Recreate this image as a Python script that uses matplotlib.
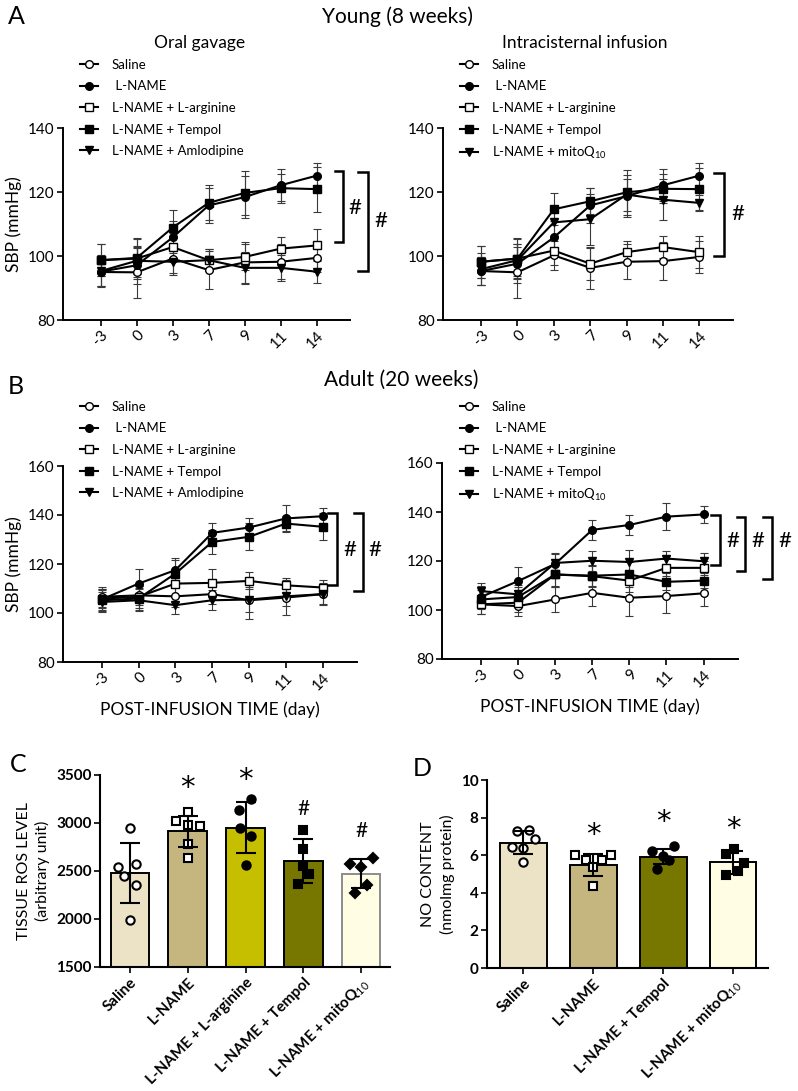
import matplotlib
matplotlib.use('Agg')
import matplotlib.pyplot as plt
import matplotlib.transforms as mtransforms
import numpy as np

plt.rcParams['font.family'] = ['Lato', 'DejaVu Sans']
plt.rcParams['mathtext.fontset'] = 'custom'
plt.rcParams['mathtext.rm'] = 'Lato'
plt.rcParams['mathtext.it'] = 'Lato:italic'
plt.rcParams['mathtext.bf'] = 'Lato:bold'

W, H = 798, 1091

# ---------------- data: SBP time course ----------------
days = ['-3', '0', '3', '7', '9', '11', '14']

# Young, oral gavage
ya_saline = [95.0, 94.9, 99.2, 95.6, 98.0, 98.2, 99.4]
ya_saline_sd = [4.5, 8.0, 4.5, 6.0, 6.5, 5.5, 4.5]
ya_lname = [95.1, 97.1, 105.8, 115.8, 118.4, 122.1, 125.1]
ya_lname_sd = [4.5, 6.0, 5.0, 5.5, 6.5, 5.0, 4.0]
ya_larg = [98.7, 99.2, 102.8, 98.7, 99.7, 102.3, 103.3]
ya_larg_sd = [5.0, 6.5, 4.5, 3.5, 4.0, 3.5, 5.0]
ya_tempol = [98.7, 99.4, 108.9, 116.6, 119.7, 121.2, 120.9]
ya_tempol_sd = [5.0, 6.0, 5.5, 5.5, 7.0, 4.5, 7.0]
ya_amlo = [95.3, 98.5, 98.2, 98.7, 96.3, 96.3, 95.1]
ya_amlo_sd = [5.0, 4.0, 4.0, 3.5, 5.0, 4.0, 3.5]

# Young, intracisternal infusion
yb_saline = [95.3, 94.9, 100.2, 96.3, 98.2, 98.4, 99.7]
yb_saline_sd = [4.5, 8.0, 4.5, 6.5, 5.5, 6.0, 5.0]
yb_lname = [95.3, 97.6, 105.8, 115.8, 118.7, 122.1, 125.1]
yb_lname_sd = [4.5, 6.0, 5.0, 5.5, 6.5, 5.0, 4.0]
yb_larg = [98.2, 99.2, 101.7, 97.6, 101.2, 102.8, 101.2]
yb_larg_sd = [5.0, 6.5, 4.5, 5.0, 3.5, 3.5, 5.0]
yb_tempol = [98.2, 99.2, 114.6, 117.1, 119.9, 121.0, 120.9]
yb_tempol_sd = [5.0, 6.0, 5.0, 4.0, 7.0, 4.5, 6.5]
yb_mito = [95.9, 98.7, 110.5, 111.5, 119.2, 117.6, 116.6]
yb_mito_sd = [5.0, 5.0, 4.5, 8.0, 5.0, 6.5, 2.5]

# Adult, oral gavage
aa_saline = [106.6, 107.2, 106.8, 107.7, 105.2, 106.3, 107.7]
aa_saline_sd = [4.0, 4.0, 4.5, 4.0, 7.5, 7.0, 4.5]
aa_lname = [105.5, 112.0, 117.5, 132.7, 134.9, 138.6, 139.5]
aa_lname_sd = [4.5, 6.0, 5.0, 4.0, 4.0, 5.5, 3.5]
aa_larg = [105.9, 106.6, 112.0, 112.3, 113.1, 111.3, 110.4]
aa_larg_sd = [4.0, 4.5, 5.0, 5.5, 3.5, 3.0, 3.0]
aa_tempol = [105.2, 105.9, 116.1, 129.0, 131.1, 136.5, 135.2]
aa_tempol_sd = [4.0, 4.5, 5.5, 5.0, 5.5, 3.0, 5.5]
aa_amlo = [104.5, 105.2, 103.2, 105.2, 105.5, 106.8, 107.7]
aa_amlo_sd = [4.0, 4.5, 3.5, 4.0, 5.0, 4.0, 4.0]

# Adult, intracisternal infusion
ab_saline = [102.3, 101.6, 104.3, 107.0, 105.0, 105.7, 106.8]
ab_saline_sd = [4.0, 4.0, 5.0, 5.5, 7.5, 7.0, 5.0]
ab_lname = [105.3, 111.8, 118.8, 132.7, 134.7, 138.1, 139.0]
ab_lname_sd = [4.5, 5.6, 4.0, 4.0, 4.0, 5.4, 3.5]
ab_larg = [102.3, 103.0, 114.5, 113.8, 112.0, 117.2, 117.2]
ab_larg_sd = [4.0, 4.0, 5.0, 4.0, 4.5, 3.5, 3.0]
ab_tempol = [104.3, 105.3, 114.5, 114.0, 114.5, 111.5, 112.0]
ab_tempol_sd = [4.0, 4.0, 4.5, 4.5, 5.0, 3.5, 3.0]
ab_mito = [107.7, 106.4, 119.2, 120.1, 119.6, 121.0, 119.9]
ab_mito_sd = [3.5, 4.0, 4.0, 4.0, 5.0, 3.0, 3.5]

oral_labels = ['Saline', ' L-NAME', 'L-NAME + L-arginine', 'L-NAME + Tempol', 'L-NAME + Amlodipine']
ic_labels = ['Saline', ' L-NAME', 'L-NAME + L-arginine', 'L-NAME + Tempol', 'L-NAME + mitoQ$_{10}$']

# ---------------- data: ROS (C) ----------------
c_groups = ['Saline', 'L-NAME', 'L-NAME + L-arginine', 'L-NAME + Tempol', 'L-NAME + mitoQ$_{10}$']
c_mean = [2480, 2913, 2950, 2604, 2473]
c_sd = [310, 165, 265, 225, 150]
c_points = [
    [2948, 2540, 2568, 2448, 2350, 1990],
    [3111, 3017, 2983, 2965, 2777, 2631],
    [3250, 3139, 2948, 2861, 2558],
    [2925, 2732, 2552, 2466, 2362],
    [2635, 2570, 2545, 2352, 2268],
]
c_jitter = [
    [0, -0.2, 0.1, -0.1, 0.1, 0],
    [0, -0.21, 0, 0.21, 0, 0],
    [0.09, -0.12, -0.09, 0.09, 0],
    [0, 0, 0, 0.1, -0.09],
    [0.21, -0.2, 0, 0.1, -0.1],
]
c_marks = ['', '*', '*', '#', '#']
c_sig_y = [0, 3360, 3450, 3150, 2920]

# ---------------- data: NO (D) ----------------
d_groups = ['Saline', 'L-NAME', 'L-NAME + Tempol', 'L-NAME + mitoQ$_{10}$']
d_mean = [6.67, 5.49, 5.93, 5.63]
d_sd = [0.62, 0.58, 0.42, 0.61]
d_points = [
    [7.29, 7.35, 6.85, 6.41, 6.37, 5.66],
    [6.02, 6.02, 5.75, 5.75, 5.35, 4.34],
    [6.50, 6.23, 5.96, 5.75, 5.27],
    [6.34, 6.07, 5.61, 5.18, 4.96],
]
d_jitter = [
    [-0.095, 0.08, 0.17, -0.16, 0, 0],
    [-0.26, 0.25, -0.11, 0.12, 0, 0],
    [0.15, -0.16, 0, 0.08, -0.09],
    [0.01, -0.1, 0.16, 0.07, -0.1],
]
d_marks = ['', '*', '*', '*']
d_sig_y = [0, 7.1, 7.78, 7.39]

# ---------------- figure ----------------
fig = plt.figure(figsize=(W / 100, H / 100), dpi=100)
fig.patch.set_facecolor('white')


def px_axes(x0, ytop, x1, ybot):
    return fig.add_axes([x0 / W, 1 - ybot / H, (x1 - x0) / W, (ybot - ytop) / H])


def style_axes(ax, lw=1.4):
    for s in ['top', 'right']:
        ax.spines[s].set_visible(False)
    for s in ['left', 'bottom']:
        ax.spines[s].set_linewidth(lw)
    ax.tick_params(direction='out', length=4, width=1.2, labelsize=11, pad=2)


series_styles = [
    dict(marker='o', mfc='white'),
    dict(marker='o', mfc='black'),
    dict(marker='s', mfc='white'),
    dict(marker='s', mfc='black'),
    dict(marker='v', mfc='black'),
]


def sbp_panel(ax, series, sds, labels, ylim, yticks, legend_xy, ylabel=True):
    x = np.arange(len(days))
    for y, sd in zip(series, sds):
        ax.errorbar(x, y, yerr=sd, fmt='none', ecolor='#3a3a3a', elinewidth=0.8,
                    capsize=3, capthick=0.8, zorder=2)
    handles = []
    for y, st, lab in zip(series, series_styles, labels):
        h, = ax.plot(x, y, color='black', lw=1.5, marker=st['marker'], ms=5.5,
                     mfc=st['mfc'], mec='black', mew=1.0, zorder=3, label=lab)
        handles.append(h)
    ax.set_xlim(-1.05, 6.93)
    ax.set_ylim(*ylim)
    ax.set_yticks(yticks)
    ax.set_xticks(x)
    ax.set_xticklabels(days, rotation=45, ha='right', rotation_mode='anchor')
    style_axes(ax)
    if ylabel:
        ax.set_ylabel('SBP (mmHg)', fontsize=12.5, labelpad=4)
    fig.legend(handles=handles, labels=labels, loc='upper left',
               bbox_to_anchor=(legend_xy[0] / W, 1 - legend_xy[1] / H),
               frameon=False, fontsize=9.5, handlelength=1.4, handletextpad=1.0,
               labelspacing=0.72, borderpad=0, borderaxespad=0, numpoints=1)


def bracket(ax, xv, arm, y0, y1, lx, ly):
    tr = mtransforms.blended_transform_factory(ax.transAxes, ax.transData)
    ax.plot([xv - arm, xv, xv, xv - arm], [y1, y1, y0, y0], transform=tr,
            color='black', lw=1.8, clip_on=False, solid_joinstyle='miter')
    ax.text(lx, ly, '#', transform=tr, fontsize=16, ha='left', va='center')


# Panel A
axA1 = px_axes(63, 128, 350, 320)
sbp_panel(axA1, [ya_saline, ya_lname, ya_larg, ya_tempol, ya_amlo],
          [ya_saline_sd, ya_lname_sd, ya_larg_sd, ya_tempol_sd, ya_amlo_sd],
          oral_labels, (80, 140), [80, 100, 120, 140], (80, 59))
bracket(axA1, 0.976, 0.03, 104.5, 126.6, 0.995, 115)
bracket(axA1, 1.063, 0.035, 95.4, 126.4, 1.085, 111)

axA2 = px_axes(443, 128, 733, 320)
sbp_panel(axA2, [yb_saline, yb_lname, yb_larg, yb_tempol, yb_mito],
          [yb_saline_sd, yb_lname_sd, yb_larg_sd, yb_tempol_sd, yb_mito_sd],
          ic_labels, (80, 140), [80, 100, 120, 140], (460, 59), ylabel=False)
bracket(axA2, 0.969, 0.035, 100.0, 125.8, 0.995, 113)

# Panel B
axB1 = px_axes(63, 466, 357, 662)
sbp_panel(axB1, [aa_saline, aa_lname, aa_larg, aa_tempol, aa_amlo],
          [aa_saline_sd, aa_lname_sd, aa_larg_sd, aa_tempol_sd, aa_amlo_sd],
          oral_labels, (80, 160), [80, 100, 120, 140, 160], (80, 401))
bracket(axB1, 0.932, 0.03, 111.3, 140.9, 0.955, 125.6)
bracket(axB1, 1.02, 0.03, 109.0, 140.9, 1.04, 125.6)

axB2 = px_axes(442, 463, 738, 659)
sbp_panel(axB2, [ab_saline, ab_lname, ab_larg, ab_tempol, ab_mito],
          [ab_saline_sd, ab_lname_sd, ab_larg_sd, ab_tempol_sd, ab_mito_sd],
          ic_labels, (80, 160), [80, 100, 120, 140, 160], (460, 401), ylabel=False)
bracket(axB2, 0.94, 0.03, 118.2, 138.8, 0.96, 128)
bracket(axB2, 1.025, 0.03, 116.1, 138.1, 1.045, 128)
bracket(axB2, 1.115, 0.03, 112.7, 137.8, 1.135, 128)

for ax in (axB1, axB2):
    ax.set_xlabel('POST-INFUSION TIME (day)', fontsize=12.5, labelpad=6)

# Titles / panel letters
fig.text(397 / W, 1 - 17 / H, 'Young (8 weeks)', fontsize=15, ha='center', va='center')
fig.text(401 / W, 1 - 380 / H, 'Adult (20 weeks)', fontsize=15, ha='center', va='center')
fig.text(200 / W, 1 - 43 / H, 'Oral gavage', fontsize=12.5, ha='center', va='center')
fig.text(585 / W, 1 - 43 / H, 'Intracisternal infusion', fontsize=12.5, ha='center', va='center')
fig.text(8 / W, 1 - 17 / H, 'A', fontsize=18, ha='left', va='center')
fig.text(8 / W, 1 - 386 / H, 'B', fontsize=18, ha='left', va='center')
fig.text(10 / W, 1 - 765 / H, 'C', fontsize=18, ha='left', va='center')
fig.text(413 / W, 1 - 768 / H, 'D', fontsize=18, ha='left', va='center')

bar_colors = ['#ece3c6', '#c4b67e', '#c6bf00', '#777700', '#fffde3']
bar_edges = ['black', 'black', 'black', 'black', '#8c8c8c']


def sig_marks(ax, marks, ys):
    for i, (m, y) in enumerate(zip(marks, ys)):
        if m == '*':
            ax.text(i, y, m, ha='center', va='center', fontsize=21,
                    family='DejaVu Sans')
        elif m == '#':
            ax.text(i, y, m, ha='center', va='center', fontsize=15)


def bar_panel(ax, groups, means, sds, pts, jit, colors, edges, markers, mfcs, ylim, yticks):
    x = np.arange(len(groups))
    ax.bar(x, means, width=0.67, color=colors, edgecolor=edges, linewidth=1.4, zorder=1)
    for i in range(len(groups)):
        xs = x[i] + np.array(jit[i])
        ax.plot(xs, pts[i], ls='none', marker=markers[i], ms=6 if markers[i] != 'D' else 5,
                mfc=mfcs[i], mec='black', mew=1.5, zorder=3)
    ax.errorbar(x, means, yerr=sds, fmt='none', ecolor='black', elinewidth=1.5,
                capsize=7, capthick=1.5, zorder=4)
    ax.set_xlim(-0.52, len(groups) - 0.5)
    ax.set_ylim(*ylim)
    ax.set_yticks(yticks)
    ax.set_xticks(x)
    ax.set_xticklabels(groups, rotation=45, ha='right', rotation_mode='anchor',
                       fontweight='bold', fontsize=9.5)
    style_axes(ax, lw=1.5)
    for t in ax.get_yticklabels():
        t.set_fontweight('bold')
        t.set_fontsize(11)


axC = px_axes(100, 775, 390, 967)
bar_panel(axC, c_groups, c_mean, c_sd, c_points, c_jitter, bar_colors, bar_edges,
          ['o', 's', 'o', 's', 'D'], ['white', 'white', 'black', 'black', 'black'],
          (1500, 3500), [1500, 2000, 2500, 3000, 3500])
axC.set_ylabel('TISSUE ROS LEVEL\n(arbitrary unit)', fontsize=11.5, labelpad=4, linespacing=1.4)
sig_marks(axC, c_marks, c_sig_y)

axD = px_axes(487, 780, 768, 968)
bar_panel(axD, d_groups, d_mean, d_sd, d_points, d_jitter,
          [bar_colors[0], bar_colors[1], bar_colors[3], bar_colors[4]],
          ['black'] * 4, ['o', 's', 'o', 's'], ['white', 'white', 'black', 'black'],
          (0, 10), [0, 2, 4, 6, 8, 10])
axD.set_ylabel('NO CONTENT\n(nmolmg protein)', fontsize=11.5, labelpad=4, linespacing=1.4)
sig_marks(axD, d_marks, d_sig_y)

fig.savefig('out.png', dpi=100, facecolor='white')
